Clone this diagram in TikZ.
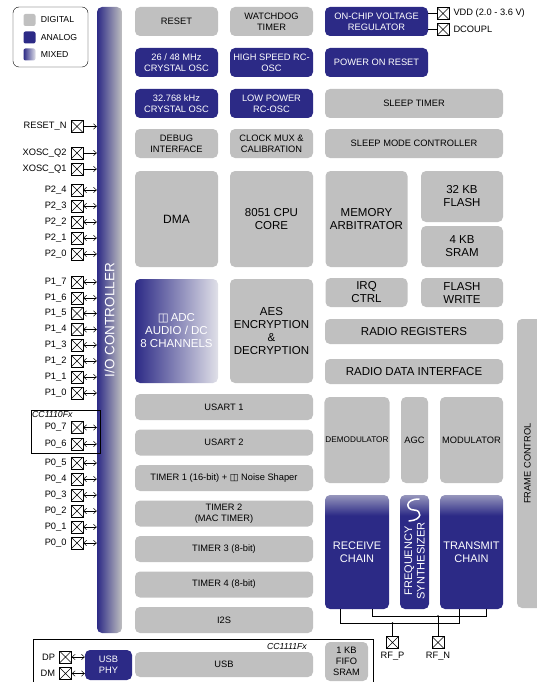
\documentclass[tikz,border=0pt]{standalone}
\usepackage{fontspec}
\setmainfont{Liberation Sans}
\newfontfamily\symfont{DejaVu Sans}
\usetikzlibrary{arrows.meta,positioning}

\definecolor{digitalgrey}{RGB}{192,192,192}
\definecolor{analogblue}{RGB}{44,42,134}
\definecolor{mixedlight}{RGB}{224,224,232}
\definecolor{chaintop}{RGB}{150,150,188}

\pgfdeclareverticalshading{chainshade}{100bp}{color(0bp)=(analogblue); color(25bp)=(analogblue); color(66bp)=(analogblue); color(75bp)=(chaintop); color(100bp)=(chaintop)}

\newcommand{\sigdelta}{{\symfont ◫}}

\tikzset{
  block/.style={rounded corners=5pt, inner sep=1pt, align=center, font=\fontsize{9.3}{11}\selectfont},
  digital/.style={block, fill=digitalgrey},
  analog/.style={block, fill=analogblue, text=white},
  mixed/.style={block, left color=analogblue, right color=mixedlight, text=white},
  chain/.style={block, shade, shading=chainshade, text=white},
  big/.style={font=\fontsize{11.5}{13}\selectfont},
  cell/.style={minimum width=83, minimum height=29},
  wide/.style={minimum width=178, minimum height=29},
  strip/.style={minimum width=178, minimum height=26},
  swatch/.style={rounded corners=2pt, minimum size=12, inner sep=0},
  pad/.style={draw, line width=0.6pt, minimum size=12, inner sep=0,
    path picture={\draw (path picture bounding box.north west) -- (path picture bounding box.south east)
      (path picture bounding box.south west) -- (path picture bounding box.north east);}},
  pinlabel/.style={font=\fontsize{9.3}{10}\selectfont, inner sep=0},
  wire/.style={line width=0.5pt},
  >={Straight Barb[length=3pt,width=5.5pt]}
}

\begin{document}
\begin{tikzpicture}[x=1pt, y=-1pt]
\useasboundingbox (0,0) rectangle (537,682);

% legend
\node (Legend) [draw, rounded corners=6pt, minimum width=75, minimum height=60] at (50.5, 37) {};
\node (SwatchDigital) [swatch, fill=digitalgrey] at (29.5, 20) {};
\node (SwatchAnalog) [swatch, fill=analogblue] at (29.5, 37.5) {};
\node (SwatchMixed) [swatch, left color=analogblue, right color=mixedlight] at (29.5, 54.5) {};
\node (TextDigital) [pinlabel, font=\fontsize{8.7}{10}\selectfont, right=5pt of SwatchDigital] {DIGITAL};
\node (TextAnalog) [pinlabel, font=\fontsize{8.7}{10}\selectfont, right=5pt of SwatchAnalog] {ANALOG};
\node (TextMixed) [pinlabel, font=\fontsize{8.7}{10}\selectfont, right=5pt of SwatchMixed] {MIXED};

% i/o controller
\node (IoCtrl) [block, left color=analogblue, right color=digitalgrey, minimum width=25, minimum height=626] at (109.5, 320) {};
\node (IoText) [rotate=90, text=white, font=\fontsize{13.5}{15}\selectfont] at (IoCtrl.center) {I/O CONTROLLER};

% clocks, power, reset
\node (Reset) [digital, cell] at (176.5, 21.5) {RESET};
\node (Watchdog) [digital, cell] at (271.5, 21.5) {WATCHDOG\\TIMER};
\node (Regulator) [analog, cell, minimum width=103] at (376.5, 21.5) {ON-CHIP VOLTAGE\\REGULATOR};
\node (CrystalHigh) [analog, cell] at (176.5, 62.5) {26 / 48 MHz\\CRYSTAL OSC};
\node (RcHigh) [analog, cell] at (271.5, 62.5) {HIGH SPEED RC-\\OSC};
\node (PowerOnReset) [analog, cell, minimum width=103] at (376.5, 62.5) {POWER ON RESET};
\node (CrystalLow) [analog, cell] at (176.5, 103.5) {32.768 kHz\\CRYSTAL OSC};
\node (RcLow) [analog, cell] at (271.5, 103.5) {LOW POWER\\RC-OSC};
\node (SleepTimer) [digital, wide] at (414, 103.5) {SLEEP TIMER};
\node (Debug) [digital, cell] at (176.5, 143.5) {DEBUG\\INTERFACE};
\node (ClockMux) [digital, cell] at (271.5, 143.5) {CLOCK MUX \&\\CALIBRATION};
\node (SleepCtrl) [digital, wide] at (414, 143.5) {SLEEP MODE CONTROLLER};

% core and memory
\node (Dma) [digital, big, minimum width=83, minimum height=96, font=\fontsize{12}{14}\selectfont] at (176.5, 219) {DMA};
\node (Cpu) [digital, big, minimum width=83, minimum height=96] at (271.5, 219) {8051 CPU\\CORE};
\node (MemArb) [digital, big, minimum width=82, minimum height=96] at (366.5, 219) {MEMORY\\ARBITRATOR};
\node (Flash) [digital, big, minimum width=82, minimum height=51] at (462, 196.5) {32 KB\\FLASH};
\node (Sram) [digital, big, minimum width=82, minimum height=41] at (462, 246.5) {4 KB\\SRAM};
\node (Adc) [mixed, big, minimum width=83, minimum height=104] at (176.5, 331) {\sigdelta\,ADC\\AUDIO / DC\\8 CHANNELS};
\node (Aes) [digital, big, minimum width=83, minimum height=104] at (271.5, 331) {AES\\ENCRYPTION\\\&\\DECRYPTION};
\node (IrqCtrl) [digital, big, minimum width=82, minimum height=29] at (366.5, 292.5) {IRQ\\CTRL};
\node (FlashWrite) [digital, big, minimum width=82, minimum height=29] at (462, 292.5) {FLASH\\WRITE};
\node (RadioRegs) [digital, big, minimum width=178, minimum height=25] at (414, 331.5) {RADIO REGISTERS};
\node (RadioData) [digital, big, minimum width=178, minimum height=25] at (414, 371.5) {RADIO DATA INTERFACE};

% peripherals
\node (Usart1) [digital, strip] at (224, 407) {USART 1};
\node (Usart2) [digital, strip] at (224, 442.5) {USART 2};
\node (Timer1) [digital, strip] at (224, 478) {TIMER 1 (16-bit) + \sigdelta\ Noise Shaper};
\node (Timer2) [digital, strip] at (224, 513.5) {TIMER 2\\(MAC TIMER)};
\node (Timer3) [digital, strip] at (224, 549) {TIMER 3 (8-bit)};
\node (Timer4) [digital, strip] at (224, 584.5) {TIMER 4 (8-bit)};
\node (I2s) [digital, strip] at (224, 620) {I2S};

% radio
\node (Demod) [digital, minimum width=64, minimum height=86, font=\fontsize{8.2}{10}\selectfont] at (357, 440) {DEMODULATOR};
\node (Agc) [digital, minimum width=27, minimum height=86] at (414.5, 440) {AGC};
\node (Mod) [digital, minimum width=63, minimum height=86] at (471.5, 440) {MODULATOR};
\node (RxChain) [chain, font=\fontsize{11}{12.5}\selectfont, minimum width=64, minimum height=114] at (357, 552) {RECEIVE\\CHAIN};
\node (Synth) [chain, minimum width=29, minimum height=114] at (414.5, 552) {};
\node (SynthText) [rotate=90, text=white, align=center, inner sep=0, font=\fontsize{11}{12.5}\selectfont] at (414.5, 561) {FREQUENCY\\SYNTHESIZER};
\draw [white, line width=1.5pt, line cap=round] (419, 499) .. controls (404, 499) and (406, 510) .. (414, 510)
  .. controls (422, 510) and (423, 520) .. (409, 521);
\node (TxChain) [chain, font=\fontsize{11}{12.5}\selectfont, minimum width=63, minimum height=114] at (471.5, 552) {TRANSMIT\\CHAIN};
\node (FrameCtrl) [digital, minimum width=28, minimum height=289] at (531, 463.5) {};
\node (FrameText) [rotate=90, inner sep=0, font=\fontsize{9.3}{10}\selectfont] at (527.5, 463.5) {FRAME CONTROL};

% rf pins
\coordinate (RxOuter) at (340, 609);
\coordinate (RxInner) at (372, 609);
\coordinate (TxOuter) at (459, 609);
\coordinate (TxInner) at (486, 609);
\coordinate (OuterBus) at (392.5, 623);
\coordinate (InnerBus) at (438, 616);
\draw [wire] (RxOuter) -- (RxOuter |- OuterBus) -| (TxOuter);
\draw [wire] (RxInner) -- (RxInner |- InnerBus) -| (TxInner);
\node (RfP) [pad] at (392.5, 642.5) {};
\node (RfN) [pad] at (438, 642.5) {};
\draw [wire] (OuterBus) -- (RfP.north);
\draw [wire] (InnerBus) -- (RfN.north);
\fill (OuterBus) circle (0.9pt) (InnerBus) circle (0.9pt);
\node (RfPText) [pinlabel, below=3pt of RfP] {RF\_P};
\node (RfNText) [pinlabel, below=3pt of RfN] {RF\_N};

% supply pins
\node (VddPad) [pad] at (443, 13.5) {};
\node (DcouplPad) [pad] at (443, 29.5) {};
\draw [wire] (Regulator.east |- VddPad) -- (VddPad.west);
\draw [wire] (Regulator.east |- DcouplPad) -- (DcouplPad.west);
\node (VddText) [pinlabel, right=4pt of VddPad] {VDD (2.0 - 3.6 V)};
\node (DcouplText) [pinlabel, right=4pt of DcouplPad] {DCOUPL};

% input pins
\foreach \pname/\py [count=\i] in {RESET\_N/126.5, XOSC\_Q2/153, XOSC\_Q1/169} {
  \node (InPad\i) [pad] at (77, \py) {};
  \node (InText\i) [pinlabel, left=4pt of InPad\i] {\pname};
  \draw [wire, ->] (InPad\i.east) -- (InPad\i.east -| IoCtrl.west);
}

% port pins
\foreach \pname/\py [count=\i] in {P2\_4/190, P2\_3/206, P2\_2/222, P2\_1/238, P2\_0/254,
    P1\_7/282, P1\_6/298, P1\_5/313.5, P1\_4/329.5, P1\_3/345, P1\_2/361, P1\_1/377, P1\_0/393,
    P0\_7/427.5, P0\_6/444, P0\_5/463, P0\_4/479, P0\_3/495, P0\_2/511, P0\_1/527, P0\_0/543} {
  \node (PortPad\i) [pad] at (77, \py) {};
  \node (PortText\i) [pinlabel, left=4pt of PortPad\i] {\pname};
  \draw [wire, <->] (PortPad\i.east) -- (PortPad\i.east -| IoCtrl.west);
}

% cc1110 only pins
\node (Cc1110Frame) [draw, line width=0.6pt, minimum width=69, minimum height=43, anchor=north west] at (31, 410) {};
\node (Cc1110Text) [pinlabel, font=\fontsize{8.7}{10}\selectfont\itshape, anchor=north west] at ([xshift=1pt, yshift=-1pt]Cc1110Frame.north west) {CC1110Fx};

% cc1111 usb
\node (Cc1111Frame) [draw, line width=0.6pt, minimum width=340.5, minimum height=60, anchor=north west] at (32.5, 639) {};
\node (Cc1111Text) [pinlabel, font=\fontsize{8.7}{10}\selectfont\itshape, anchor=east] at (307, 646) {CC1111Fx};
\node (UsbPhy) [analog, minimum width=47, minimum height=30] at (108.5, 665) {USB\\PHY};
\node (Usb) [digital, minimum width=178, minimum height=25] at (224, 664.5) {USB};
\node (Fifo) [digital, minimum width=43, minimum height=39] at (346.5, 661.5) {1 KB\\FIFO\\SRAM};
\node (DpPad) [pad] at (65.5, 657) {};
\node (DmPad) [pad] at (65.5, 673.5) {};
\node (DpText) [pinlabel, left=4pt of DpPad] {DP};
\node (DmText) [pinlabel, left=4pt of DmPad] {DM};
\draw [wire, <->] (DpPad.east) -- (DpPad.east -| UsbPhy.west);
\draw [wire, <->] (DmPad.east) -- (DmPad.east -| UsbPhy.west);
\end{tikzpicture}
\end{document}
